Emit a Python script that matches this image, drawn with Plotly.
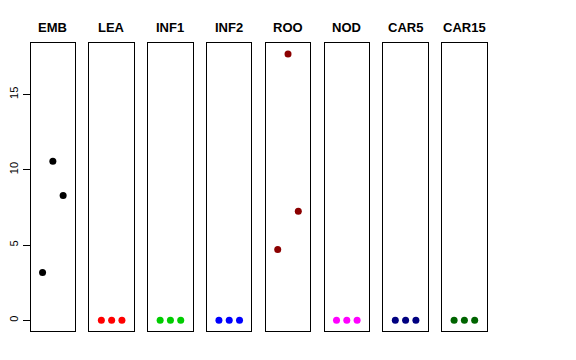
import plotly.graph_objects as go

panels = ["EMB", "LEA", "INF1", "INF2", "ROO", "NOD", "CAR5", "CAR15"]
colors = ["#000000", "#FF0000", "#00CD00", "#0000FF", "#8B0000", "#FF00FF", "#000080", "#006400"]
x_pos = [1, 2, 3]
values = {
    "EMB": [3.18, 10.57, 8.29],
    "LEA": [0, 0, 0],
    "INF1": [0, 0, 0],
    "INF2": [0, 0, 0],
    "ROO": [4.71, 17.69, 7.25],
    "NOD": [0, 0, 0],
    "CAR5": [0, 0, 0],
    "CAR15": [0, 0, 0],
}
y_ticks = [0, 5, 10, 15]

OFF = 8  # page body margin
W, H = 576 - OFF, 360 - OFF
left0, pw, step = 28.7 - OFF, 44.6, 59.0
top_px, bot_px = 43.3 - OFF, 331.0 - OFF
title_px = 28 - OFF
ymax = max(max(v) for v in values.values())
ypad = 0.04 * ymax
yrange = [-ypad, ymax + ypad]

fig = go.Figure()
for i, (name, col) in enumerate(zip(panels, colors)):
    xa = "x" if i == 0 else f"x{i+1}"
    ya = "y" if i == 0 else f"y{i+1}"
    fig.add_trace(go.Scatter(x=x_pos, y=values[name], mode="markers",
                             marker=dict(color=col, size=7),
                             xaxis=xa, yaxis=ya, showlegend=False, hoverinfo="skip"))
    x0 = (left0 + step * i) / W
    x1 = (left0 + step * i + pw) / W
    xkey = "xaxis" if i == 0 else f"xaxis{i+1}"
    ykey = "yaxis" if i == 0 else f"yaxis{i+1}"
    fig.layout[xkey] = dict(domain=[x0, x1], range=[-0.16, 4.16], showgrid=False,
                            zeroline=False, showticklabels=False, ticks="",
                            showline=True, linecolor="#000000", linewidth=1, mirror=True,
                            anchor=ya)
    ydict = dict(domain=[1 - bot_px / H, 1 - top_px / H], range=yrange, showgrid=False,
                 zeroline=False, showline=True, linecolor="#000000", linewidth=1,
                 mirror=True, anchor=xa)
    if i == 0:
        ydict.update(tickvals=y_ticks, ticktext=[str(t) for t in y_ticks], ticks="outside",
                     ticklen=7, tickcolor="#000000", tickangle=-90,
                     tickfont=dict(family="Liberation Sans, Arial", size=11, color="#000000"))
    else:
        ydict.update(showticklabels=False, ticks="")
    fig.layout[ykey] = ydict
    fig.add_annotation(x=(x0 + x1) / 2, y=1 - title_px / H, xref="paper", yref="paper",
                       text=f"<b>{name}</b>", showarrow=False,
                       font=dict(family="Liberation Sans, Arial", size=13, color="#000000"),
                       xanchor="center", yanchor="middle")

fig.update_layout(width=W, height=H, margin=dict(l=0, r=0, t=0, b=0),
                  paper_bgcolor="white", plot_bgcolor="white")
fig.write_html("out.html")
